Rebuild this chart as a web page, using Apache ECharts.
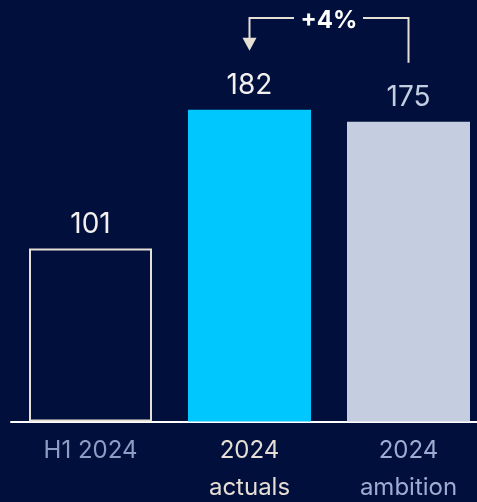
<!DOCTYPE html>
<html>
<head>
<meta charset="utf-8">
<script src="https://cdn.jsdelivr.net/npm/echarts@6/dist/echarts.min.js"></script>
<style>
  html, body { margin: 0; padding: 0; background: #000F3C; }
  #chart { width: 477px; height: 502px; }
</style>
</head>
<body>
<div id="chart"></div>
<script>
// data
const categories = ['H1 2024', '2024\nactuals', '2024\nambition'];
const values = [101, 182, 175];
const changeLabel = '+4%';

const labelColors = ['#8E9DC4', '#E6DED4', '#9FACD2'];
const valueColors = ['#F2EFEE', '#F2EFEE', '#C5CEE0'];

const chartDom = document.getElementById('chart');
const myChart = echarts.init(chartDom);

const barItems = [
  {
    value: values[0],
    itemStyle: { color: 'transparent', borderColor: '#E6DFD6', borderWidth: 2 },
    label: { color: valueColors[0] },
  },
  { value: values[1], itemStyle: { color: '#00C8FF' }, label: { color: valueColors[1] } },
  { value: values[2], itemStyle: { color: '#C5CEE0' }, label: { color: valueColors[2] } },
];

let options = {
  backgroundColor: '#000F3C',
  animation: false,
  textStyle: { fontFamily: 'Inter' },
  grid: { left: 11, top: 79, width: 477, height: 342.5, outerBoundsMode: 'none', containLabel: false },
  xAxis: {
    type: 'category',
    data: categories.map((c, i) => ({
      value: c,
      textStyle: { color: labelColors[i], fontWeight: 'normal' },
    })),
    axisLine: { lineStyle: { color: '#FFFFFF', width: 2 } },
    axisTick: { show: false },
    axisLabel: { fontSize: 24, lineHeight: 37, margin: 11, fontFamily: 'Inter', fontWeight: 'normal' },
  },
  yAxis: {
    type: 'value',
    min: 0,
    max: 200,
    show: false,
    splitLine: { show: false },
  },
  series: [
    {
      type: 'bar',
      barWidth: 123,
      data: barItems,
      label: {
        show: true,
        position: 'top',
        distance: 10,
        fontSize: 28,
        fontFamily: 'Inter',
      },
    },
  ],
};
myChart.setOption(options, true);

// arrow annotation between ambition and actuals, placed from the bar scale
const pActual = myChart.convertToPixel({ seriesIndex: 0 }, [1, values[1]]);
const pAmbition = myChart.convertToPixel({ seriesIndex: 0 }, [2, values[2]]);
const lineY = 18;
const gap = 59;
const midX = (pActual[0] + pAmbition[0]) / 2;
const tipY = pActual[1] - gap;
const arrowColor = '#E6DFD6';

myChart.setOption({
  graphic: [
    {
      type: 'polyline',
      shape: { points: [[pAmbition[0], pAmbition[1] - gap], [pAmbition[0], lineY], [midX + 34, lineY]] },
      style: { stroke: arrowColor, lineWidth: 2, fill: null },
    },
    {
      type: 'polyline',
      shape: { points: [[midX - 35, lineY], [pActual[0], lineY], [pActual[0], tipY - 12]] },
      style: { stroke: arrowColor, lineWidth: 2, fill: null },
    },
    {
      type: 'polygon',
      shape: { points: [[pActual[0] - 7, tipY - 13], [pActual[0] + 7, tipY - 13], [pActual[0], tipY]] },
      style: { fill: arrowColor },
    },
    {
      type: 'text',
      x: midX,
      y: lineY + 3,
      style: {
        text: changeLabel,
        fill: '#FFFFFF',
        font: 'bold 24px Inter',
        align: 'center',
        verticalAlign: 'middle',
      },
    },
  ],
});
</script>
</body>
</html>
